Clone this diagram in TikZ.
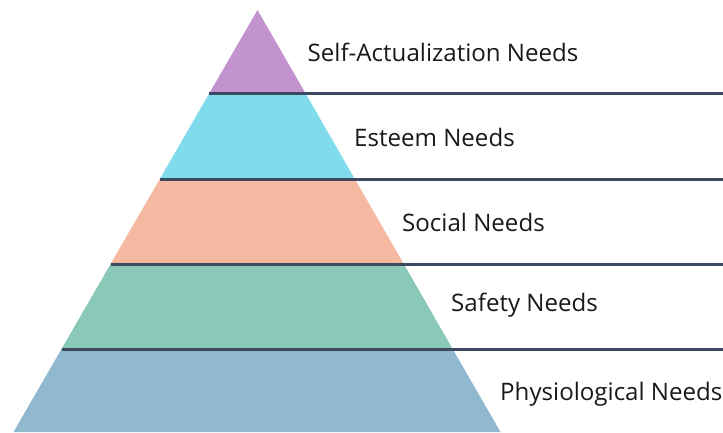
\documentclass[tikz,border=0pt]{standalone}
\usepackage{fontspec}
\setmainfont{Open Sans}
\definecolor{cTop}{HTML}{C393D0}
\definecolor{cEst}{HTML}{80DCEC}
\definecolor{cSoc}{HTML}{F4B9A0}
\definecolor{cSaf}{HTML}{8AC8B8}
\definecolor{cPhy}{HTML}{90B8CE}
\definecolor{cLine}{HTML}{3B4A60}
\tikzset{
  sep/.style={draw=cLine, line width=3pt},
  lab/.style={anchor=base west, inner sep=0pt, font=\fontsize{24.1}{29}\selectfont, text=black!90}
}
\begin{document}
\begin{tikzpicture}[x=1pt,y=-1pt]
\useasboundingbox (0,0) rectangle (723,433);
% pyramid corner coordinates
\coordinate (apex) at (257.5,10);
\coordinate (l1) at (208.9,94);  \coordinate (r1) at (305.9,94);
\coordinate (l2) at (159.8,179); \coordinate (r2) at (354.8,179);
\coordinate (l3) at (110.6,264); \coordinate (r3) at (403.8,264);
\coordinate (l4) at (61.5,349);  \coordinate (r4) at (452.7,349);
\coordinate (l5) at (13.5,432);  \coordinate (r5) at (500.5,432);
\coordinate (e1) at (723,94);
\coordinate (e2) at (723,179);
\coordinate (e3) at (723,264);
\coordinate (e4) at (723,349);
% bands
\fill[cTop] (apex) -- (l1) -- (r1) -- cycle;
\fill[cEst] (l1) -- (l2) -- (r2) -- (r1) -- cycle;
\fill[cSoc] (l2) -- (l3) -- (r3) -- (r2) -- cycle;
\fill[cSaf] (l3) -- (l4) -- (r4) -- (r3) -- cycle;
\fill[cPhy] (l4) -- (l5) -- (r5) -- (r4) -- cycle;
% separators
\draw[sep] (l1) -- (e1);
\draw[sep] (l2) -- (e2);
\draw[sep] (l3) -- (e3);
\draw[sep] (l4) -- (e4);
% labels
\node[lab] (t1) at (307.5,61.7) {Self-Actualization Needs};
\node[lab] (t2) at (354,146.7) {Esteem Needs};
\node[lab] (t3) at (402,231.7) {Social Needs};
\node[lab] (t4) at (451,311.7) {Safety Needs};
\node[lab] (t5) at (500,400) {Physiological Needs};
\end{tikzpicture}
\end{document}
